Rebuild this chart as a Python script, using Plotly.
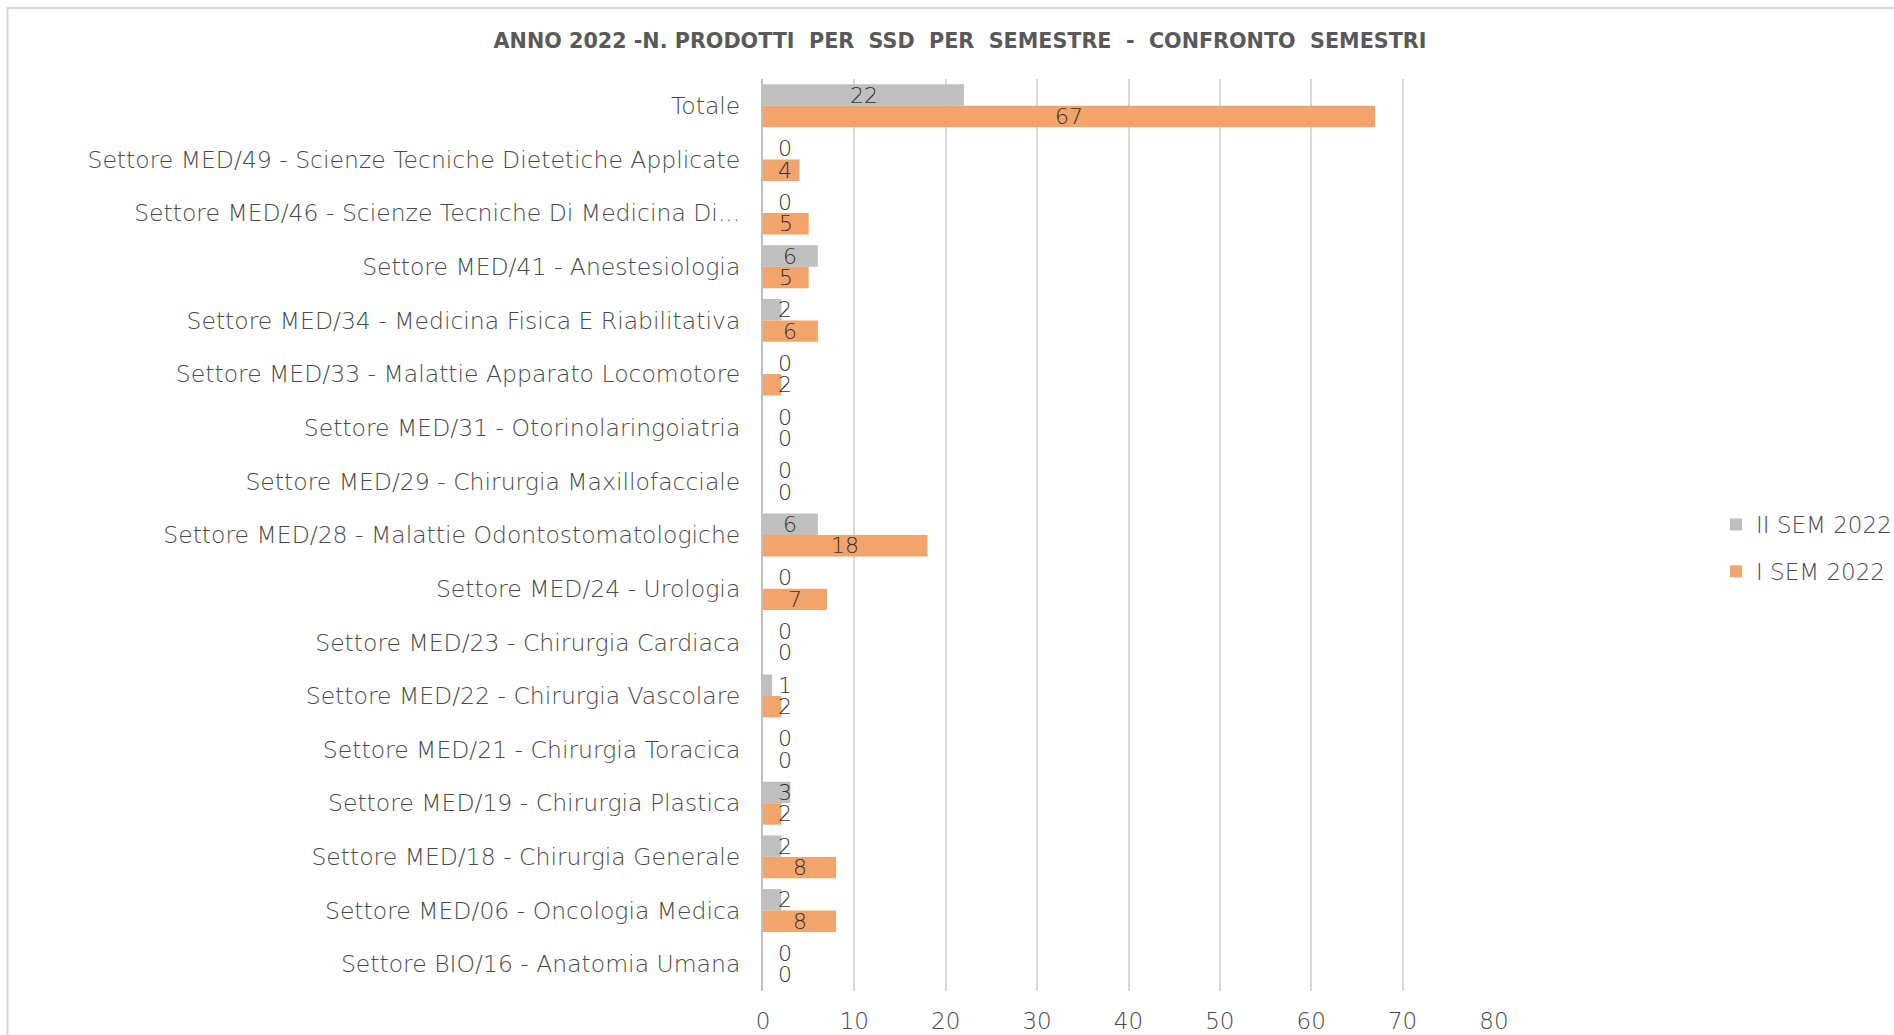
import plotly.graph_objects as go

categories = [
    "Totale",
    "Settore MED/49 - Scienze Tecniche Dietetiche Applicate",
    "Settore MED/46 - Scienze Tecniche Di Medicina Di...",
    "Settore MED/41 - Anestesiologia",
    "Settore MED/34 - Medicina Fisica E Riabilitativa",
    "Settore MED/33 - Malattie Apparato Locomotore",
    "Settore MED/31 - Otorinolaringoiatria",
    "Settore MED/29 - Chirurgia Maxillofacciale",
    "Settore MED/28 - Malattie Odontostomatologiche",
    "Settore MED/24 - Urologia",
    "Settore MED/23 - Chirurgia Cardiaca",
    "Settore MED/22 - Chirurgia Vascolare",
    "Settore MED/21 - Chirurgia Toracica",
    "Settore MED/19 - Chirurgia Plastica",
    "Settore MED/18 - Chirurgia Generale",
    "Settore MED/06 - Oncologia Medica",
    "Settore BIO/16 - Anatomia Umana",
]
sem2_values = [22, 0, 0, 6, 2, 0, 0, 0, 6, 0, 0, 1, 0, 3, 2, 2, 0]
sem1_values = [67, 4, 5, 5, 6, 2, 0, 0, 18, 7, 0, 2, 0, 2, 8, 8, 0]
series_names = ["II SEM 2022", "I SEM 2022"]
x_ticks = [0, 10, 20, 30, 40, 50, 60, 70, 80]

GREY = "#BFBFBF"
ORANGE = "#F1A46C"
TEXT = "#4A4A4A"
FONT = "DejaVu Sans"

W, H = 1894, 1035
L, R, T, B = 763, 400, 79, 44
PW, PH = W - L - R, H - T - B

fig = go.Figure()
fig.add_trace(go.Bar(y=categories, x=sem2_values, orientation="h", name=series_names[0],
                     marker=dict(color=GREY, line=dict(width=0)), legendgroup="a"))
fig.add_trace(go.Bar(y=categories, x=sem1_values, orientation="h", name=series_names[1],
                     marker=dict(color=ORANGE, line=dict(width=0)), legendgroup="b"))

annotations = []
min_label_x = 2.45
for vals, shift in ((sem2_values, 10.7), (sem1_values, -10.7)):
    for c, v in zip(categories, vals):
        annotations.append(dict(x=max(v / 2, min_label_x), y=c, xref="x", yref="y",
                                text=str(v), showarrow=False, yshift=shift,
                                font=dict(family=FONT, size=22, color="#333333", weight=300),
                                xanchor="center", yanchor="middle"))

fig.update_layout(
    width=W, height=H,
    margin=dict(l=L, r=R, t=T, b=B, autoexpand=False),
    paper_bgcolor="white", plot_bgcolor="white",
    barmode="group", bargap=0.2, bargroupgap=0,
    title=dict(text="<b>ANNO 2022 -N. PRODOTTI  PER  SSD  PER  SEMESTRE  -  CONFRONTO  SEMESTRI</b>",
               x=960 / W, xanchor="center", y=1 - 41 / H, yanchor="middle",
               font=dict(family=FONT, size=20.7, color="#595959")),
    legend=dict(x=(1716 - L) / PW, xanchor="left", y=1 - (548 - T) / PH, yanchor="middle",
                traceorder="grouped", tracegroupgap=14,
                font=dict(family=FONT, size=23, color=TEXT, weight=300), itemwidth=30),
    annotations=annotations,
    shapes=[dict(type="rect", xref="paper", yref="paper",
                 x0=(7.5 - L) / PW, x1=(W + 20 - L) / PW,
                 y0=-0.2, y1=1 + (T - 8) / PH,
                 line=dict(color="#D9D9D9", width=2), fillcolor="rgba(0,0,0,0)", layer="below")],
)
fig.update_xaxes(range=[0, 80], tickvals=x_ticks, showgrid=True, gridcolor="#D9D9D9", gridwidth=1.5,
                 zeroline=False, showline=False, ticks="",
                 tickfont=dict(family=FONT, size=23, color=TEXT, weight=300), ticklabelstandoff=14)
fig.update_yaxes(autorange="reversed", type="category", showgrid=False, showline=True,
                 linecolor="#BFBFBF", linewidth=2, ticks="",
                 tickfont=dict(family=FONT, size=23.5, color=TEXT, weight=300), ticklabelstandoff=16)

fig.write_html("out.html", config={"displayModeBar": False},
               post_script="document.body.style.margin='0';")
